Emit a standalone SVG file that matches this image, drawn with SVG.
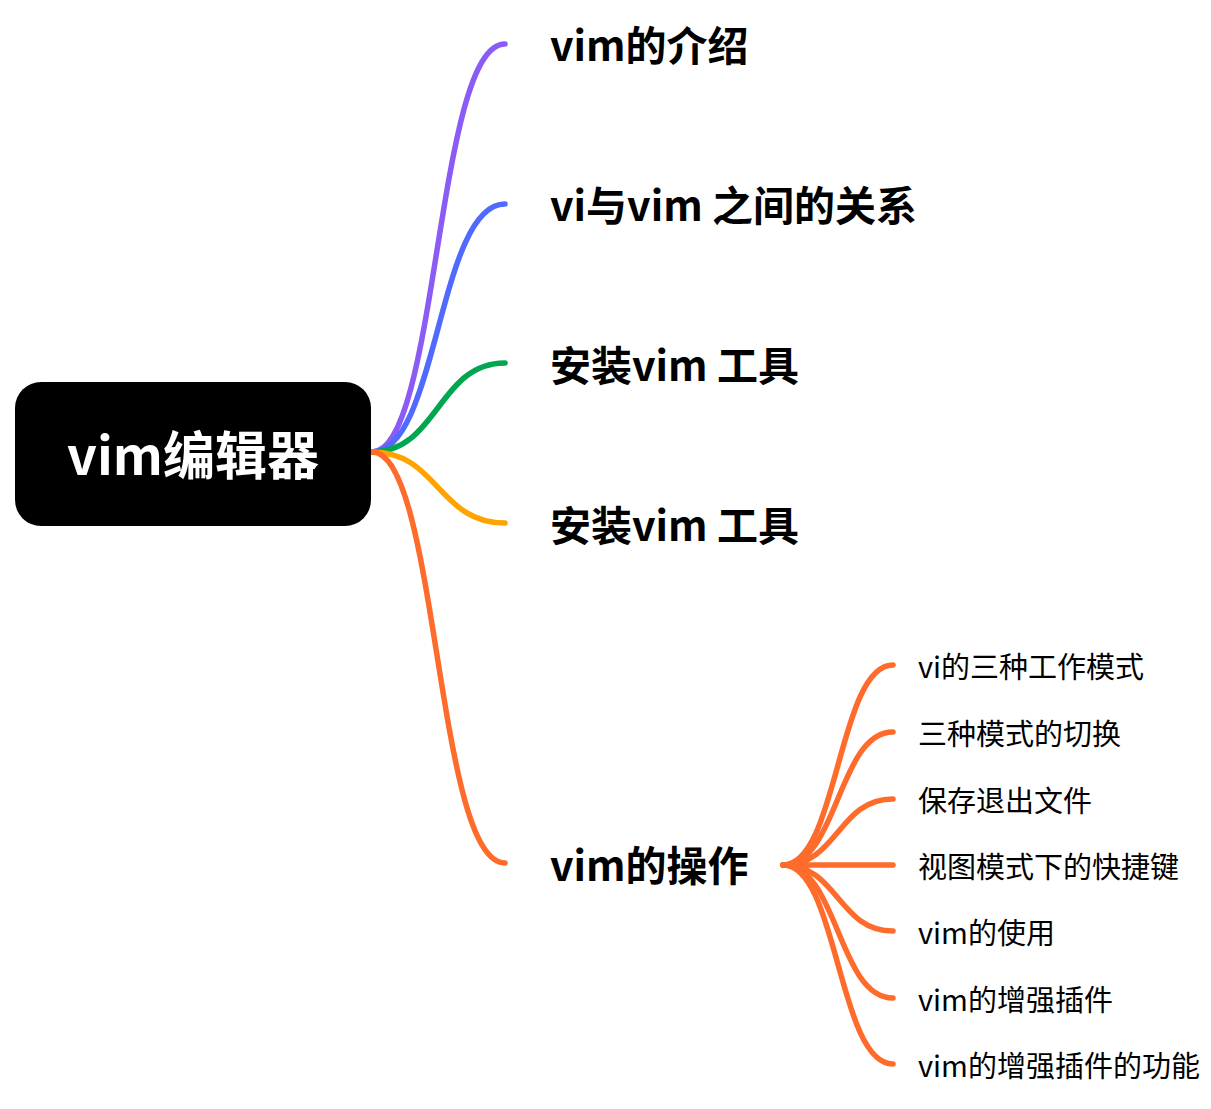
<svg xmlns="http://www.w3.org/2000/svg" width="1211" height="1109" viewBox="0 0 1211 1109">
<style>
.conn{fill:none;stroke-width:5.5;stroke-linecap:round}
.root{font-family:"Noto Sans CJK SC","Noto Sans",sans-serif;font-weight:700;font-size:52px;fill:#ffffff}
.main{font-family:"Noto Sans CJK SC","Noto Sans",sans-serif;font-weight:700;font-size:41px;fill:#000000}
.sub{font-family:"Noto Sans CJK SC","Noto Sans",sans-serif;font-weight:400;font-size:29px;fill:#000000}
</style>
<rect width="1211" height="1109" fill="#ffffff"/>
<g id="connectors">
<path class="conn" stroke="#8A5CF5" d="M372,452 C438,452 436,44 505,44"/>
<path class="conn" stroke="#5069FF" d="M372,452 C438,452 438,204 505,204"/>
<path class="conn" stroke="#00A650" d="M372,452 C438,452 438,363 505,363"/>
<path class="conn" stroke="#FFA300" d="M372,452 C438,452 438,523 505,523"/>
<path class="conn" stroke="#FF6B2B" d="M372,452 C438,452 436,863 505,863"/>
<g stroke="#FF6B2B">
<path class="conn" d="M783,865 C838,865 838,665 893,665"/>
<path class="conn" d="M783,865 C838,865 838,732 893,732"/>
<path class="conn" d="M783,865 C838,865 838,799 893,799"/>
<path class="conn" d="M783,865 L893,865"/>
<path class="conn" d="M783,865 C838,865 838,931 893,931"/>
<path class="conn" d="M783,865 C838,865 838,998 893,998"/>
<path class="conn" d="M783,865 C838,865 838,1064 893,1064"/>
</g>
</g>
<g id="root">
<rect x="15" y="382" width="356" height="144" rx="26" fill="#000000"/>
<text class="root" x="193" y="475" text-anchor="middle">vim编辑器</text>
</g>
<g id="n1"><text class="main" x="550" y="61">vim的介绍</text></g>
<g id="n2"><text class="main" x="550" y="221">vi与vim 之间的关系</text></g>
<g id="n3"><text class="main" x="550" y="381">安装vim 工具</text></g>
<g id="n4"><text class="main" x="550" y="541">安装vim 工具</text></g>
<g id="n5"><text class="main" x="550" y="881">vim的操作</text></g>
<g id="s1"><text class="sub" x="918" y="678">vi的三种工作模式</text></g>
<g id="s2"><text class="sub" x="918" y="745">三种模式的切换</text></g>
<g id="s3"><text class="sub" x="918" y="812">保存退出文件</text></g>
<g id="s4"><text class="sub" x="918" y="878">视图模式下的快捷键</text></g>
<g id="s5"><text class="sub" x="918" y="944">vim的使用</text></g>
<g id="s6"><text class="sub" x="918" y="1011">vim的增强插件</text></g>
<g id="s7"><text class="sub" x="918" y="1077">vim的增强插件的功能</text></g>
</svg>
